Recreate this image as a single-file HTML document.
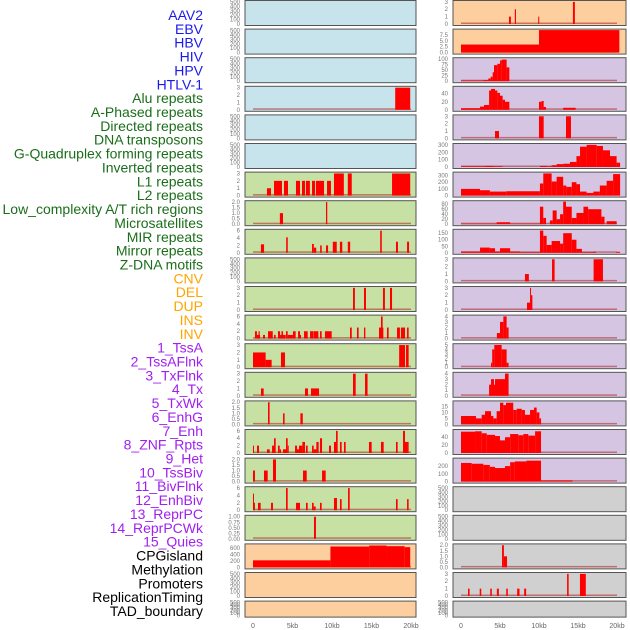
<!DOCTYPE html>
<html><head><meta charset="utf-8"><style>
html,body{margin:0;padding:0;background:#fff;}
svg{display:block;font-family:"Liberation Sans",sans-serif;}
</style></head><body>
<svg id="chart" width="630" height="630" viewBox="0 0 630 630" xmlns="http://www.w3.org/2000/svg"></svg>
<script>
// ---- data ----
const labels = ["AAV2","EBV","HBV","HIV","HPV","HTLV-1","Alu repeats","A-Phased repeats","Directed repeats","DNA transposons","G-Quadruplex forming repeats","Inverted repeats","L1 repeats","L2 repeats","Low_complexity A/T rich regions","Microsatellites","MIR repeats","Mirror repeats","Z-DNA motifs","CNV","DEL","DUP","INS","INV","1_TssA","2_TssAFlnk","3_TxFlnk","4_Tx","5_TxWk","6_EnhG","7_Enh","8_ZNF_Rpts","9_Het","10_TssBiv","11_BivFlnk","12_EnhBiv","13_ReprPC","14_ReprPCWk","15_Quies","CPGisland","Methylation","Promoters","ReplicationTiming","TAD_boundary"];
const labelGroups = ["v","v","v","v","v","v","r","r","r","r","r","r","r","r","r","r","r","r","r","s","s","s","s","s","c","c","c","c","c","c","c","c","c","c","c","c","c","c","c","o","o","o","o","o"];
const xTickValues = [0,5,10,15,20];
const xTickLabels = ["0","5kb","10kb","15kb","20kb"];

const T500 = ["0","100","200","300","400","500"];
const T3 = ["0","1","2","3"];
const T2 = ["0.0","0.5","1.0","1.5","2.0"];
const T6 = ["0","2","4","6"];
const T1 = ["0.00","0.25","0.50","0.75","1.00"];
const T600 = ["0","200","400","600"];
const T75 = ["0.0","2.5","5.0","7.5"];
const T100 = ["0","25","50","75","100"];
const T40 = ["0","20","40"];
const T300 = ["0","100","200","300"];
const T80 = ["0","20","40","60","80"];
const T150 = ["0","50","100","150"];
const T4 = ["0","1","2","3","4"];
const T5 = ["0","1","2","3","4","5"];
const T15 = ["0","5","10","15"];
const T200 = ["0","100","200"];

// segments: [startKb, endKb, value]
const L3 = [[18.0,19.9,3]];
const L6 = [[1.77,2.28,1],[2.66,3.67,2],[3.92,4.43,2],[5.44,5.95,2],[6.2,6.58,2],[6.7,7.2,2],[7.47,7.85,2],[7.97,8.99,2],[9.37,9.87,2],[10.25,11.5,3],[12.0,12.5,3],[17.6,19.9,3]];
const L7 = [[3.4,3.8,1],[9.24,9.4,2]];
const L8 = [[1.0,1.4,2.3],[4.2,4.4,4.2],[7.47,7.7,2.4],[7.7,8.0,1.4],[8.5,8.7,2],[9.24,9.5,2],[10.1,10.6,3],[11.0,11.3,3],[12.0,12.3,3],[16.1,16.3,6],[18.1,18.35,3],[19.5,19.75,3]];
const L10 = [[12.66,12.9,3],[14.05,14.3,3],[16.45,16.7,3],[17.34,17.6,3]];
const L11 = [[0.25,0.5,2],[0.5,0.89,1],[0.7,0.85,2],[1.27,1.52,1],[1.9,2.5,2],[2.66,2.87,1],[3.16,3.42,2],[3.42,4.14,1],[3.6,3.8,2],[4.18,4.39,2],[4.39,5.06,1],[5.06,5.4,2],[5.7,5.95,2],[5.95,6.08,1],[6.46,6.92,2],[7.22,7.64,2],[7.68,8.27,2],[8.48,8.69,2],[9.11,9.96,2],[12.28,12.5,3],[13.16,13.37,3],[14.05,14.22,3],[15.95,16.5,3],[16.2,16.41,6],[16.96,17.17,3],[18.23,18.6,3],[18.73,19.24,3],[19.5,19.7,3]];
const L12 = [[0,1.6,2],[1.6,2.36,1],[3.54,4.05,2],[18.5,19.24,3],[19.37,19.7,3]];
const L13 = [[1.01,1.35,1],[6.58,6.96,1],[7.34,8.36,1],[12.66,13.0,3],[14.18,14.5,3]];
const L14 = [[1.9,2.1,2],[3.8,4.0,1],[6.0,6.3,1]];
const L15 = [[0,0.09,2],[0.51,0.76,2],[1.77,2.11,1],[2.41,2.66,2],[2.66,2.87,4],[3.16,3.38,2],[3.38,3.54,1],[3.8,4.18,1],[4.18,4.39,4],[4.39,4.52,2],[5.32,5.57,2],[5.57,5.82,1],[5.82,6.25,2],[6.25,6.58,3],[6.71,6.92,2],[7.47,7.68,2],[7.68,8.02,1],[8.02,8.31,3],[8.48,8.74,4],[9.62,9.87,2],[10.25,10.51,3],[10.51,10.72,6],[11.01,11.22,3],[11.52,11.73,3],[14.68,15.02,3],[16.2,16.54,3],[18.1,18.31,3],[18.99,19.24,6],[19.24,19.5,3],[19.5,19.7,3]];
const L16 = [[0,0.25,1],[1.39,1.86,1],[2.53,2.91,2],[6.33,6.8,1],[8.74,9.2,1]];
const L17 = [[0,0.09,4.5],[0.09,0.25,2],[0.63,0.97,2],[2.28,2.53,2],[4.18,4.39,6],[5.44,5.95,2],[6.71,6.92,2],[7.47,7.68,2],[7.68,7.93,1],[8.48,8.69,2],[10.25,10.63,3.3],[11.01,11.22,3],[12.03,12.24,6],[18.1,18.31,3],[19.5,19.7,3]];
const L18 = [[7.72,7.97,1]];
const L19 = [[0,9.8,220],[9.8,14.7,650],[14.7,16.9,680],[16.9,19.2,660],[19.2,19.9,630]];

const R0 = [[6.15,6.4,1],[6.9,7.05,2],[9.9,10.0,1],[14.35,14.6,3]];
const R1 = [[0,10,3.4],[10,20.3,9.5]];
const R2 = [[0,2.86,3],[2.86,3.5,5],[3.5,3.8,12],[3.8,4.06,20],[4.06,4.23,40],[4.23,4.66,72],[4.66,5.0,78],[5.0,5.21,93],[5.21,5.85,97],[5.85,6.2,62]];
const R3 = [[0,2.44,4],[2.44,2.95,8],[2.95,3.6,12],[3.6,3.85,48],[3.85,4.36,52],[4.36,4.66,48],[4.66,5.0,42],[5.0,5.34,35],[5.34,5.64,25],[5.64,6.2,20],[10.0,10.34,20],[10.34,10.6,22],[10.6,10.9,7],[13.1,14.7,5]];
const R4 = [[4.36,4.87,1],[10.0,10.6,3],[13.46,14.1,3]];
const R5 = [[0,3.08,10],[3.08,4.15,15],[4.15,5.34,10],[10.12,10.98,15],[10.98,11.62,10],[11.62,12.26,25],[12.26,13.1,40],[13.1,13.97,45],[13.97,14.8,70],[14.8,15.26,150],[15.26,16.1,280],[16.1,17.4,305],[17.4,18.2,290],[18.2,19.1,230],[19.1,19.95,150],[19.95,20.4,60]];
const R6 = [[0,2.44,100],[2.44,3.7,80],[3.7,5.8,60],[5.8,10.12,65],[10.12,10.55,180],[10.55,11.62,330],[11.62,12.26,210],[12.26,13.1,280],[13.1,13.5,150],[13.5,14.2,130],[14.2,14.8,200],[14.8,15.26,170],[15.26,16.1,60],[16.1,16.97,40],[16.97,17.8,60],[17.8,18.67,150],[18.67,19.5,220],[19.5,20.4,320]];
const R7 = [[0,4.57,2],[4.57,6.3,8],[6.3,10.12,2],[10.12,10.55,70],[10.55,10.9,25],[11.4,11.75,15],[11.75,12.26,55],[12.26,12.7,20],[12.7,13.1,40],[13.1,13.46,90],[13.46,14.2,70],[14.2,14.8,25],[14.8,15.7,45],[15.7,16.3,70],[16.3,18.0,60],[18.0,18.4,30],[18.67,19.95,12]];
const R8 = [[0,2.44,10],[2.44,3.7,40],[3.7,4.36,35],[4.36,5.0,10],[5.0,6.3,35],[6.3,7.56,10],[7.56,10.12,5],[10.12,10.55,170],[10.55,10.98,130],[10.98,11.62,60],[11.62,12.7,90],[12.7,13.1,70],[13.1,14.2,150],[14.2,14.8,100],[14.8,15.5,30],[15.5,16.97,5],[16.97,17.3,8],[19.9,20.4,8]];
const R9 = [[8.2,8.7,1],[11.67,12.0,3],[17.0,18.2,3]];
const R10 = [[8.46,8.85,1],[8.85,8.97,3],[8.97,9.15,2]];
const R11 = [[4.6,5.0,1],[5.0,5.43,3],[5.43,5.85,4],[5.85,6.1,2]];
const R12 = [[3.85,4.0,1],[4.0,4.27,4],[4.27,5.21,5],[5.21,5.85,4],[5.85,6.1,1]];
const R13 = [[3.6,3.85,2],[3.85,4.23,3],[4.23,4.36,2],[4.36,5.64,3],[5.64,6.1,4]];
const R14 = [[0,1.92,7],[1.92,2.65,5],[2.65,3.08,8],[3.08,3.85,11],[3.85,4.15,7],[4.15,4.57,5],[4.57,5.0,11],[5.0,5.43,18],[5.43,5.77,16],[5.77,6.7,18],[6.7,7.14,12],[7.14,7.78,13],[7.78,8.2,12],[8.2,8.85,8],[8.85,9.36,12],[9.36,9.7,14],[9.7,10.05,10],[10.05,10.26,5]];
const R15 = [[0,1.8,54],[1.8,2.65,55],[2.65,3.3,50],[3.3,4.36,46],[4.36,5.0,43],[5.0,5.64,32],[5.64,6.3,40],[6.3,7.35,48],[7.35,7.99,45],[7.99,8.63,48],[8.63,9.5,44],[9.5,10.26,55]];
const R16 = [[0,1.37,240],[1.37,2.86,230],[2.86,3.7,215],[3.7,4.36,190],[4.36,5.64,175],[5.64,6.3,200],[6.3,6.9,250],[6.9,8.4,260],[8.4,10.26,270],[10.26,14.3,15]];
const R19 = [[5.26,5.5,2],[5.5,5.9,1]];
const R20 = [[0.9,1.1,1],[2.4,2.6,1],[3.75,3.95,1],[4.6,4.85,1],[5.8,6.0,1],[7.2,7.5,1],[8.1,8.35,1],[13.6,13.8,3],[15.25,16.0,3]];

// panel specs: [background, tick labels, max tick value, domain max, segments]
const leftPanels = [
 ["b",T500,500,510,null],["b",T500,500,510,null],["b",T500,500,510,null],["b",T3,3,3.05,L3],["b",T500,500,510,null],["b",T500,500,510,null],
 ["g",T3,3,3.05,L6],["g",T2,2,2.03,L7],["g",T6,6,6.1,L8],["g",T500,500,510,null],["g",T3,3,3.05,L10],["g",T6,6,6.1,L11],["g",T3,3,3.05,L12],
 ["g",T3,3,3.05,L13],["g",T2,2,2.03,L14],["g",T6,6,6.1,L15],["g",T2,2,2.03,L16],["g",T6,6,6.1,L17],["g",T1,1,1.02,L18],
 ["o",T600,600,700,L19],["o",T500,500,510,null],["o",T500,500,510,null]
];
const rightPanels = [
 ["o",T3,3,3.05,R0],["o",T75,7.5,9.5,R1],["p",T100,100,101,R2],["p",T40,40,56,R3],["p",T3,3,3.05,R4],["p",T300,300,310,R5],
 ["p",T300,300,335,R6],["p",T80,80,90,R7],["p",T150,150,172,R8],["p",T3,3,3.05,R9],["p",T3,3,3.05,R10],["p",T4,4,4.05,R11],
 ["p",T5,5,5.05,R12],["p",T4,4,4.05,R13],["p",T15,15,18.7,R14],["p",T40,40,57,R15],["p",T200,200,290,R16],
 ["g2",T500,500,510,null],["g2",T500,500,510,null],["g2",T2,2,2.03,R19],["g2",T3,3,3.05,R20],["g2",T500,500,510,null]
];

// ---- drawing ----
const NS = "http://www.w3.org/2000/svg";
const svg = document.getElementById("chart");
const bgColors = {b:"#c7e3eb", g:"#c7e0a3", o:"#fecf9e", p:"#d5c5e3", g2:"#d0d0d0"};
const labelColors = {v:"#1a1aee", r:"#1a6e1a", s:"#ffa500", c:"#a020f0", o:"#000000"};
function mk(tag, attrs){ const e=document.createElementNS(NS,tag); for(const k in attrs) e.setAttribute(k,attrs[k]); return e; }

labels.forEach((t,i)=>{
  const e = mk("text",{x:203,y:20+i*13.86,"text-anchor":"end","font-size":"14",fill:labelColors[labelGroups[i]]});
  
  
  e.textContent = t; svg.appendChild(e);
});

const cols = [
  {panels:leftPanels, px0:245, px1:416, x0:253, x1:411, tickX:240, name:'left'},
  {panels:rightPanels, px0:453, px1:626, x0:461, x1:617, tickX:448, name:'right'}
];
cols.forEach(col=>{
  const xs = kb => col.x0 + (kb/20)*(col.x1-col.x0);
  col.panels.forEach((p,r)=>{
    const top = 0.5 + r*28.6;
    const h = (r===21) ? 16 : 25;
    const bottom = top + h;
    const y0 = bottom - 1.5, y1 = top + 1;
    const ys = v => y0 - (v/p[3])*(y0-y1);
    const g = mk("g",{});
    
    
    svg.appendChild(g);
    const bg = mk("rect",{x:col.px0,y:top,width:col.px1-col.px0,height:h,fill:bgColors[p[0]],stroke:"#555",  "stroke-width":"1"});
    
    
    g.appendChild(bg);
    const n = p[1].length;
    p[1].forEach((lab,i)=>{
      const v = p[2]*i/(n-1);
      const t = mk("text",{x:col.tickX,y:ys(v)+2,"text-anchor":"end","font-size":"6",fill:"#777"});
      
      
      t.textContent = lab; g.appendChild(t);
    });
    if(p[4]){
      const base = mk("rect",{x:xs(0),y:y0-1.5,width:xs(20)-xs(0),height:1.5,fill:"#b03030",opacity:"0.6"});
      
      
      g.appendChild(base);
      p[4].forEach(s=>{
        const xa = xs(s[0]), xb = xs(s[1]);
        const yt = ys(s[2]);
        const b = mk("rect",{x:xa,y:yt,width:Math.max(1,xb-xa),height:Math.max(0,y0-yt),fill:"#ff0000"});
        
        
        g.appendChild(b);
      });
    }
  });
  xTickValues.forEach((v,i)=>{
    const t = mk("text",{x:xs(v),y:628,"text-anchor":"middle","font-size":"7",fill:"#666"});
    
    
    t.textContent = xTickLabels[i]; svg.appendChild(t);
  });
});
</script>
</body></html>
